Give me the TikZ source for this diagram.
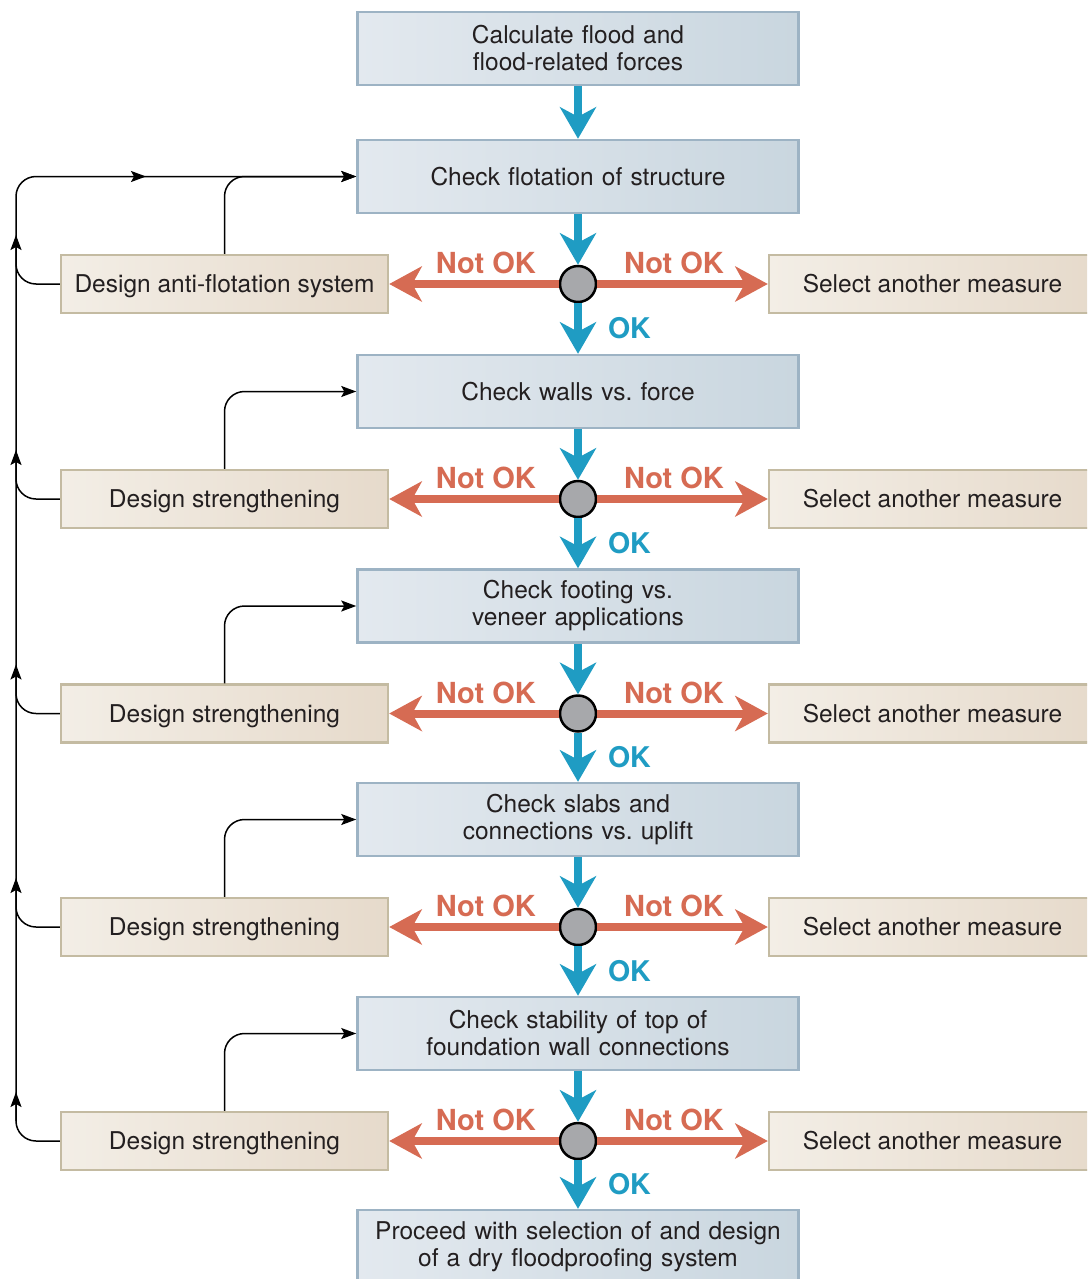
\documentclass[tikz,border=0pt]{standalone}
\usepackage{fontspec}
\setmainfont{TeX Gyre Heros}
\usetikzlibrary{arrows.meta}
\definecolor{ink}{HTML}{231F20}
\definecolor{chkA}{HTML}{E3E9EF}
\definecolor{chkB}{HTML}{C9D6DF}
\definecolor{chkline}{HTML}{9DB3C4}
\definecolor{dsgA}{HTML}{F3EEE6}
\definecolor{dsgB}{HTML}{E6DACB}
\definecolor{dsgline}{HTML}{C4BBA2}
\definecolor{okblue}{HTML}{1F9CC3}
\definecolor{nokred}{HTML}{D66B53}
\definecolor{decgray}{HTML}{A7A8AB}
\frenchspacing

\begin{document}
\begin{tikzpicture}[x=1pt,y=-1pt,>={Stealth[length=15pt,width=11pt,inset=3pt]},
    chk/.style={draw=chkline,line width=2.5pt,left color=chkA,right color=chkB,minimum width=441pt,minimum height=73pt,text width=425pt,align=center,text=ink,font=\fontsize{24.5}{27}\selectfont},
    dsg/.style={draw=dsgline,line width=2.5pt,left color=dsgA,right color=dsgB,minimum width=327pt,minimum height=58pt,text height=17.5pt,text depth=0pt,text=ink,font=\fontsize{24.5}{27}\selectfont},
    dec/.style={circle,draw=black,line width=2.5pt,fill=decgray,minimum size=36pt,inner sep=0pt},
    okarrow/.style={draw=okblue,line width=8pt,-{Stealth[length=32pt,width=37pt,inset=10pt,line width=0pt]}},
    nokarrow/.style={draw=nokred,line width=8pt,-{Stealth[length=33pt,width=36pt,inset=10pt,line width=0pt]}},
    lbl/.style={inner sep=0pt,font=\fontsize{29}{30}\selectfont\bfseries},
    fb/.style={draw=black,line width=1.5pt}]
    \path[use as bounding box,clip] (0,0) rectangle (1087,1279);
    \node[chk] (calc) at (578,48.5) {Calculate flood and\\flood-related forces};
    \node[chk] (chk6) at (578,1246.5) {Proceed with selection of and design\\of a dry floodproofing system};
    \foreach \i/\y/\t/\d in {1/176.5/Check flotation of structure/Design anti-flotation system,
        2/391.5/Check walls vs. force/Design strengthening,
        3/606/{Check footing vs.\\veneer applications}/Design strengthening,
        4/819.5/{Check slabs and\\connections vs. uplift}/Design strengthening,
        5/1033.5/{Check stability of top of\\foundation wall connections}/Design strengthening}
    {
        \node[chk] (chk\i) at (578,\y) {\t};
        \node[dec] (dec\i) at (578,\y+107.5) {};
        \node[dsg] (dsg\i) at (224.5,\y+107.5) {\d};
        \node[dsg] (sel\i) at (932.5,\y+107.5) {Select another measure};
    }
    \coordinate (spine) at (16,176.5);
    \draw[okarrow] (calc) -- (chk1);
    \foreach \i in {1,...,5}
    {
        \pgfmathtruncatemacro\j{\i+1}
        \draw[okarrow] (chk\i) -- (dec\i);
        \draw[okarrow] (dec\i) -- (chk\j) node[midway,right=26pt,lbl,font=\fontsize{28.5}{30}\selectfont\bfseries,text=okblue]{OK};
        \draw[nokarrow] (dec\i) -- (dsg\i) node[pos=0.43,above=6pt,lbl,text=nokred]{Not OK};
        \draw[nokarrow] (dec\i) -- (sel\i) node[pos=0.45,above=6pt,lbl,text=nokred]{Not OK};
        \draw[fb,->,rounded corners=20pt] (dsg\i.west) -| ([yshift=49pt]spine |- dsg\i.west);
        \draw[fb,->,rounded corners=20pt] (dsg\i.north) |- (chk\i.west);
    }
    \draw[fb,->,rounded corners=20pt] ([yshift=20pt]spine |- dsg5.west) -- (spine) -- (chk1.west);
    \draw[fb,->] ([xshift=100pt]spine) -- ([xshift=130pt]spine);
\end{tikzpicture}
\end{document}
